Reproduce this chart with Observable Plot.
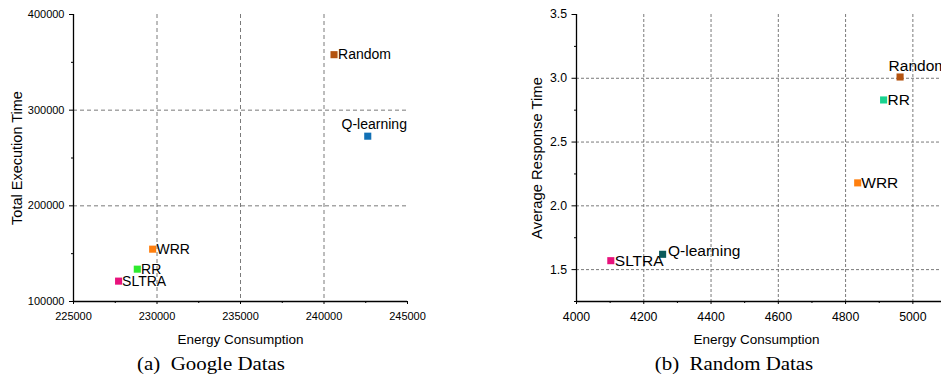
<!DOCTYPE html>
<html>
<head>
<meta charset="utf-8">
<script src="https://cdn.jsdelivr.net/npm/d3@7"></script>
<script src="https://cdn.jsdelivr.net/npm/@observablehq/plot@0.6"></script>
<style>
html, body { margin: 0; padding: 0; background: #fff; overflow: hidden; }
#wrap { position: relative; width: 941px; height: 382px; overflow: hidden; }
.panel { position: absolute; top: 0; }
.panel svg { max-width: none !important; }
.cap { position: absolute; top: 354px; font-family: "Liberation Serif", "Times New Roman", serif; font-size: 18.5px; line-height: 20px; white-space: pre; color: #000; transform: translateX(-50%) scaleX(1.13); transform-origin: center; }
</style>
</head>
<body>
<div id="wrap">
  <div id="panelA" class="panel" style="left:0px;width:470px;height:350px"></div>
  <div id="panelB" class="panel" style="left:470px;width:480px;height:350px"></div>
  <div class="cap" style="left:211px">(a)  Google Datas</div>
  <div class="cap" style="left:734px">(b)  Random Datas</div>
</div>
<script>
// ---- data ----
const methods = ["Random", "Q-learning", "WRR", "RR", "SLTRA"];

const googleEnergy = [240600, 242620, 229740, 228820, 227700];
const googleExecTime = [358000, 272800, 154700, 133800, 121300];
const googleColors = ["#B4530F", "#1170B5", "#FF7F0E", "#2EEB2E", "#E8127C"];

const randomEnergy = [4962, 4256, 4836, 4913, 4102];
const randomResponse = [3.01, 1.62, 2.18, 2.83, 1.57];
const randomColors = ["#B4530F", "#0B5B5B", "#FF7F0E", "#19D390", "#E8127C"];

const googleXTicks = [225000, 230000, 235000, 240000, 245000];
const googleXMinor = [227500, 232500, 237500, 242500];
const googleYTicks = [100000, 200000, 300000, 400000];
const googleYMinor = [150000, 250000, 350000];

const randomXTicks = [4000, 4200, 4400, 4600, 4800, 5000];
const randomXMinor = [4100, 4300, 4500, 4700, 4900, 5100];
const randomYTicks = [1.5, 2.0, 2.5, 3.0, 3.5];
const randomYMinor = [1.25, 1.75, 2.25, 2.75, 3.25];

const xTitle = "Energy Consumption";
const googleYTitle = "Total Execution Time";
const randomYTitle = "Average Response Time";

// ---- chart code ----
const FONT = '"Liberation Sans", Arial, sans-serif';
const gridStyle = {stroke: "#7a7a7a", strokeOpacity: 1, strokeWidth: 1};

const googleRows = methods.map((m, i) => ({name: m, x: googleEnergy[i], y: googleExecTime[i], color: googleColors[i]}));
const randomRows = methods.map((m, i) => ({name: m, x: randomEnergy[i], y: randomResponse[i], color: randomColors[i]}));

// label placement (style, not data)
const googleLabelPos = {
  "Random": {dx: 4, dy: 0, textAnchor: "start"},
  "Q-learning": {dx: 6.5, dy: -12, textAnchor: "middle"},
  "WRR": {dx: 3.8, dy: 0, textAnchor: "start"},
  "RR": {dx: 3.8, dy: 0, textAnchor: "start"},
  "SLTRA": {dx: 3.5, dy: 0, textAnchor: "start"}
};
const randomLabelPos = {
  "Random": {dx: -11.5, dy: -10.5, textAnchor: "start"},
  "Q-learning": {dx: 5.4, dy: -3.5, textAnchor: "start"},
  "WRR": {dx: 3.6, dy: 0, textAnchor: "start"},
  "RR": {dx: 4, dy: 0, textAnchor: "start"},
  "SLTRA": {dx: 4, dy: 0, textAnchor: "start"}
};

function labelMarks(rows, pos, fontSize) {
  return rows.map(r => Plot.text([r], {
    x: "x", y: "y", text: "name",
    dx: pos[r.name].dx, dy: pos[r.name].dy, textAnchor: pos[r.name].textAnchor,
    fontSize, fill: "#000"
  }));
}

const chartA = Plot.plot({
  width: 470, height: 350,
  marginLeft: 73, marginRight: 63, marginTop: 14, marginBottom: 49,
  style: {fontFamily: FONT, fontSize: "11px", color: "#000", background: "transparent", overflow: "visible"},
  x: {domain: [225000, 245000]},
  y: {domain: [100000, 400000]},
  color: {type: "identity"},
  marks: [
    Plot.gridX([230000, 235000, 240000], {...gridStyle, strokeDasharray: "4,3"}),
    Plot.gridY([200000, 300000], {...gridStyle, strokeDasharray: "4,3"}),
    Plot.ruleX([225000], {stroke: "#000", strokeWidth: 1.3}),
    Plot.ruleY([100000], {stroke: "#000", strokeWidth: 1.3}),
    Plot.axisX(googleXTicks, {tickSize: 3, tickPadding: 8, tickFormat: d => String(d), fontSize: 11, label: null}),
    Plot.axisX(googleXMinor, {tickSize: 2, tickFormat: () => "", label: null}),
    Plot.axisY(googleYTicks, {tickSize: 4, tickPadding: 5, tickFormat: d => String(d), fontSize: 11, label: null}),
    Plot.axisY(googleYMinor, {tickSize: 2, tickFormat: () => "", label: null}),
    Plot.dot(googleRows, {x: "x", y: "y", symbol: "square", r: 4, fill: "color", stroke: null}),
    ...labelMarks(googleRows, googleLabelPos, 14),
    Plot.text([xTitle], {frameAnchor: "bottom", dy: 38, fontSize: 13.5, fill: "#000", textAnchor: "middle", lineAnchor: "middle"}),
    Plot.text([googleYTitle], {frameAnchor: "left", rotate: -90, dx: -56.5, fontSize: 14.5, fill: "#000", textAnchor: "middle", lineAnchor: "middle"})
  ]
});
document.getElementById("panelA").appendChild(chartA);

const chartB = Plot.plot({
  width: 480, height: 350,
  marginLeft: 106, marginRight: 4, marginTop: 14, marginBottom: 49,
  style: {fontFamily: FONT, fontSize: "12.3px", color: "#000", background: "transparent", overflow: "visible"},
  x: {domain: [4000, 5100]},
  y: {domain: [1.25, 3.5]},
  color: {type: "identity"},
  marks: [
    Plot.gridX([4200, 4400, 4600, 4800, 5000], {...gridStyle, strokeDasharray: "3,2"}),
    Plot.gridY([1.5, 2.0, 2.5, 3.0], {...gridStyle, strokeDasharray: "3,2"}),
    Plot.ruleX([4000], {stroke: "#000", strokeWidth: 1.3}),
    Plot.ruleY([1.25], {stroke: "#000", strokeWidth: 1.3}),
    Plot.axisX(randomXTicks, {tickSize: 3, tickPadding: 7.5, tickFormat: d => String(d), fontSize: 12.3, label: null}),
    Plot.axisX(randomXMinor, {tickSize: 2, tickFormat: () => "", label: null}),
    Plot.axisY(randomYTicks, {tickSize: 4.5, tickPadding: 5, tickFormat: d3.format(".1f"), fontSize: 12.3, label: null}),
    Plot.axisY(randomYMinor, {tickSize: 2, tickFormat: () => "", label: null}),
    Plot.dot(randomRows, {x: "x", y: "y", symbol: "square", r: 4, fill: "color", stroke: null}),
    ...labelMarks(randomRows, randomLabelPos, 15.5),
    Plot.text([xTitle], {frameAnchor: "bottom", dy: 38, dx: -5, fontSize: 13.5, fill: "#000", textAnchor: "middle", lineAnchor: "middle"}),
    Plot.text([randomYTitle], {frameAnchor: "left", rotate: -90, dx: -39.3, fontSize: 14.8, fill: "#000", textAnchor: "middle", lineAnchor: "middle"})
  ]
});
document.getElementById("panelB").appendChild(chartB);
</script>
</body>
</html>
